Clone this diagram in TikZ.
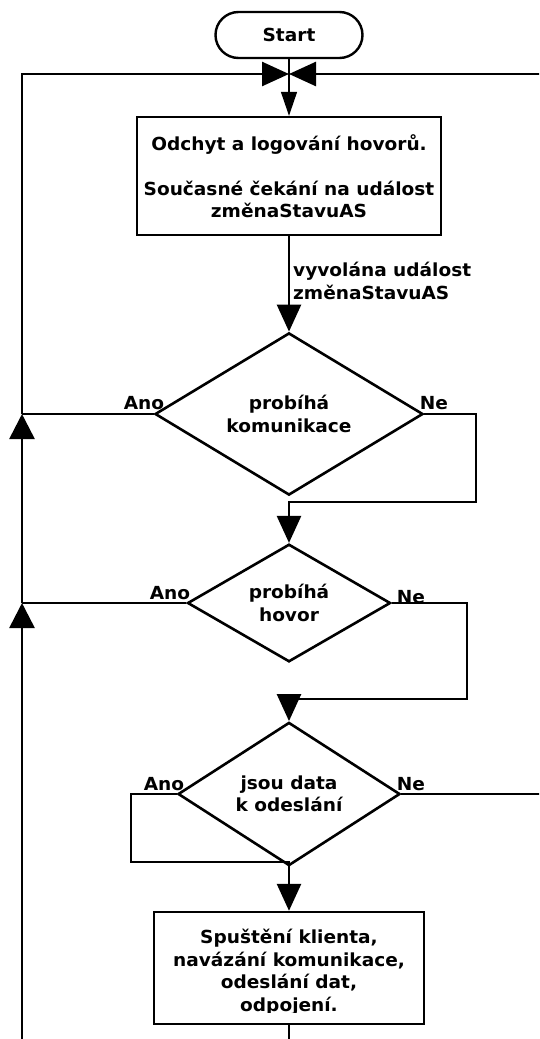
\documentclass[tikz,border=0pt]{standalone}
\usepackage{fontspec}
\setmainfont{DejaVu Sans}[FakeStretch=1.03]
\usetikzlibrary{arrows.meta,shapes.geometric}
\begin{document}
\begin{tikzpicture}[x=1pt,y=-1pt,
  every node/.style={font=\bfseries\fontsize{18}{22.5}\selectfont, inner sep=0pt},
  proc/.style={draw, line width=2.4pt, align=center},
  terminal/.style={draw, line width=2.4pt, rounded corners=23pt},
  dec/.style={draw, diamond, line width=2.6pt, align=center},
  conn/.style={line width=2.6pt},
  ahd/.style={-{Triangle[length=27pt,width=24pt]}},
  ahl/.style={-{Triangle[length=25pt,width=25pt]}},
  ahs/.style={-{Triangle[length=24pt,width=16pt]}}
]
\fill[white, use as bounding box] (0,0) rectangle (539,1039);
\clip (0,0) rectangle (539,1039);

% nodes
\node[terminal, minimum width=147pt, minimum height=46pt] (start) at (289,35) {Start};
\node[proc, minimum width=304pt, minimum height=118pt] (box1) at (289,176)
  {Odchyt a logování hovorů.\\[22.5pt]Současné čekání na událost\\změnaStavuAS};
\node[dec, minimum width=268pt, minimum height=124pt] (d1) at (289,414) {probíhá\\komunikace};
\node[dec, minimum width=203pt, minimum height=106pt] (d2) at (289,603) {probíhá\\hovor};
\node[dec, minimum width=222pt, minimum height=108pt] (d3) at (289,794) {jsou data\\k odeslání};
\node[proc, minimum width=270pt, minimum height=112pt] (box2) at (289,968) {};
\begin{scope}
  \clip (152,912) rectangle (422,1012);
  \node[align=center] (box2text) at (289,972)
    {Spuštění klienta,\\navázání komunikace,\\odeslání dat,\\odpojení.};
\end{scope}

% labels
\node[align=left, anchor=west] (evt) at (293,281) {vyvolána událost\\změnaStavuAS};
\node (a1) at (144,403) {Ano};
\node (n1) at (434,403) {Ne};
\node (a2) at (170,593) {Ano};
\node (n2) at (411,597) {Ne};
\node (a3) at (164,784) {Ano};
\node (n3) at (411,784) {Ne};

% coordinates
\coordinate (tl) at (22,74);
\coordinate (tm) at (289,74);
\coordinate (tr) at (570,74);
\coordinate (ja) at (22,414);
\coordinate (jb) at (22,603);
\coordinate (lb) at (22,1070);
\coordinate (d3r) at (570,794);
\coordinate (b2b) at (289,1070);

% connectors
\draw[line width=1.4pt, ahs] (start) -- (box1);
\draw[conn, ahd] (ja) -- (tl) -- (tm);
\draw[conn, ahd] (tr) -- (tm);
\draw[conn, ahl] (jb) -- (ja);
\draw[conn, ahl] (lb) -- (jb);
\draw[conn, ahd] (box1) -- (d1);
\draw[conn] (d1.west) -- (ja);
\draw[conn, ahd] (d1.east) -| (476,502) -| (d2);
\draw[conn] (d2.west) -- (jb);
\draw[conn, ahd] (d2.east) -| (467,699) -| (d3);
\draw[conn, ahd] (d3.west) -| (131,862) -| (box2);
\draw[conn] (d3.east) -- (d3r);
\draw[conn] (box2) -- (b2b);
\end{tikzpicture}
\end{document}
